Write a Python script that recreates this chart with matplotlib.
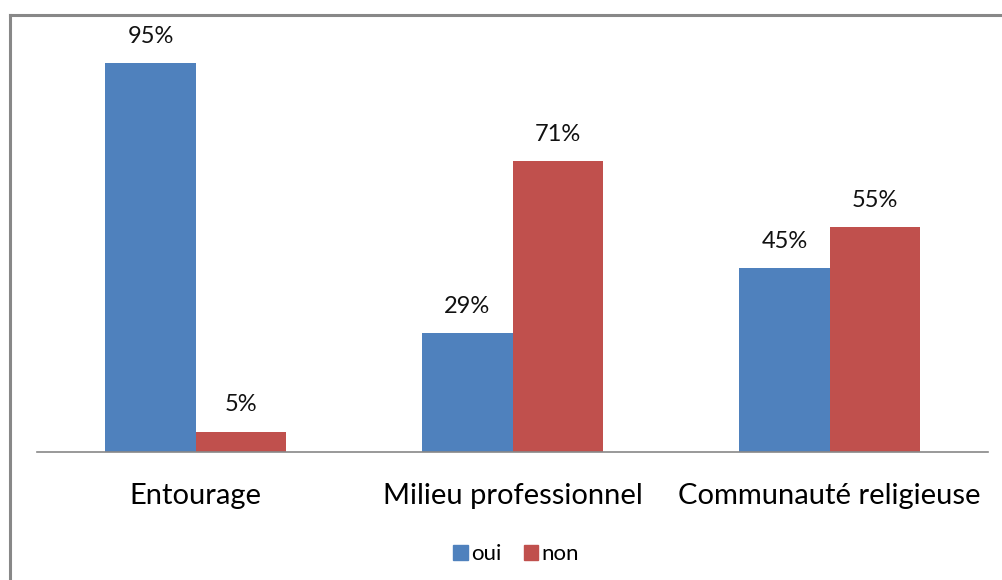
import numpy as np
import matplotlib.pyplot as plt
from matplotlib.lines import Line2D
from matplotlib.patches import Patch

# ---------- data ----------
categories = ['Entourage', 'Milieu professionnel', 'Communauté religieuse']
oui = [95, 29, 45]
non = [5, 71, 55]
series_names = ['oui', 'non']
colors = ['#4F81BD', '#C0504D']

plt.rcParams['font.family'] = ['Lato', 'DejaVu Sans']

W, H = 1002, 580
fig = plt.figure(figsize=(W / 100, H / 100), dpi=100)
ax = fig.add_axes([37 / W, (H - 452) / H, 951 / W, 409.5 / H])

x = np.arange(len(categories))
bw = 0.284
b1 = ax.bar(x - bw / 2, oui, bw, color=colors[0])
b2 = ax.bar(x + bw / 2, non, bw, color=colors[1])

for bars, vals in ((b1, oui), (b2, non)):
    for b, v in zip(bars, vals):
        ax.text(b.get_x() + b.get_width() / 2, v + 6.5, f'{v}%',
                ha='center', va='center', fontsize=17, color='#111111')

ax.set_xlim(-0.5, len(categories) - 0.5)
ax.set_ylim(0, 100)
ax.set_yticks([])
ax.set_xticks(x)
ax.set_xticklabels(categories, fontsize=21)
ax.tick_params(axis='x', length=0, pad=22)
for s in ['top', 'right', 'left']:
    ax.spines[s].set_visible(False)
ax.spines['bottom'].set_color('#888888')
ax.spines['bottom'].set_linewidth(1.2)

# outer frame (only top and left visible)
fig.add_artist(Line2D([9.5 / W, 9.5 / W], [0, 1 - 15 / H], transform=fig.transFigure,
                      color='#888888', lw=2.2))
fig.add_artist(Line2D([9.5 / W, 1], [1 - 15 / H, 1 - 15 / H], transform=fig.transFigure,
                      color='#888888', lw=2.2))

handles = [Patch(color=c) for c in colors]
fig.legend(handles, series_names, loc='center', bbox_to_anchor=(516 / W, 1 - 554 / H),
           ncol=2, frameon=False, fontsize=16, handlelength=0.65, handleheight=0.65,
           handletextpad=0.15, columnspacing=1.0)

fig.savefig('out.png', dpi=100)
